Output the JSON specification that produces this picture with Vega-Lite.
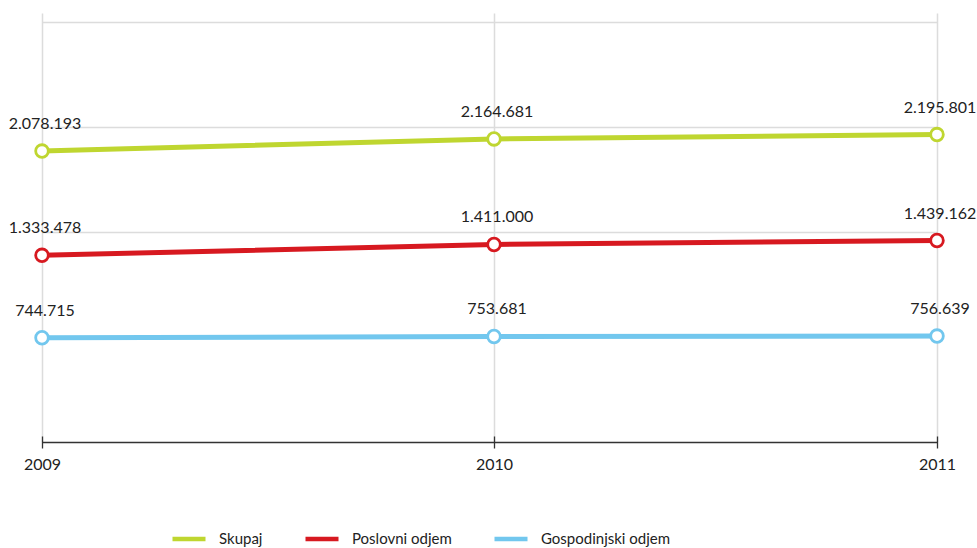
{
  "$schema": "https://vega.github.io/schema/vega-lite/v6.json",
  "autosize": "none",
  "width": 895,
  "height": 429,
  "padding": {"left": 42, "top": 13, "right": 40, "bottom": 106},
  "background": "white",
  "config": {
    "view": {"stroke": null},
    "font": "Lato",
    "text": {"font": "Lato"}
  },
  "data": {
    "values": [
      {"godina": 2009, "serija": "Skupaj", "vrijednost": 2078193, "oznaka": "2.078.193"},
      {"godina": 2010, "serija": "Skupaj", "vrijednost": 2164681, "oznaka": "2.164.681"},
      {"godina": 2011, "serija": "Skupaj", "vrijednost": 2195801, "oznaka": "2.195.801"},
      {"godina": 2009, "serija": "Poslovni odjem", "vrijednost": 1333478, "oznaka": "1.333.478"},
      {"godina": 2010, "serija": "Poslovni odjem", "vrijednost": 1411000, "oznaka": "1.411.000"},
      {"godina": 2011, "serija": "Poslovni odjem", "vrijednost": 1439162, "oznaka": "1.439.162"},
      {"godina": 2009, "serija": "Gospodinjski odjem", "vrijednost": 744715, "oznaka": "744.715"},
      {"godina": 2010, "serija": "Gospodinjski odjem", "vrijednost": 753681, "oznaka": "753.681"},
      {"godina": 2011, "serija": "Gospodinjski odjem", "vrijednost": 756639, "oznaka": "756.639"}
    ]
  },
  "encoding": {
    "x": {
      "field": "godina",
      "type": "quantitative",
      "scale": {"domain": [2009, 2010, 2011], "range": [0, 452, 895], "nice": false, "zero": false},
      "axis": {
        "title": null,
        "tickMinStep": 1,
        "format": "d",
        "domain": false,
        "offset": -6,
        "tickSize": 12,
        "tickColor": "#333333",
        "tickWidth": 1.3,
        "labelPadding": 8,
        "labelFont": "Lato",
        "labelFontSize": 16,
        "labelColor": "#222222",
        "labelFlush": false,
        "labelOverlap": false,
        "labelBound": false,
        "grid": true,
        "gridColor": "#dcdcdc",
        "gridWidth": 1.5
      }
    },
    "y": {
      "field": "vrijednost",
      "type": "quantitative",
      "scale": {"domain": [0, 3064286], "nice": false},
      "axis": {
        "title": null,
        "values": [0, 750000, 1500000, 2250000, 3000000],
        "labels": false,
        "ticks": false,
        "domain": false,
        "grid": true,
        "gridColor": {"condition": {"test": "datum.value === 0", "value": "#333333"}, "value": "#dcdcdc"},
        "gridWidth": 1.5
      }
    },
    "color": {
      "field": "serija",
      "type": "nominal",
      "scale": {
        "domain": ["Skupaj", "Poslovni odjem", "Gospodinjski odjem"],
        "range": ["#bfd630", "#d71920", "#72c7ee"]
      },
      "legend": {
        "orient": "none",
        "legendX": 128,
        "legendY": 507,
        "direction": "horizontal",
        "title": null,
        "symbolType": "stroke",
        "symbolSize": 1089,
        "symbolStrokeWidth": 4.5,
        "symbolOpacity": 1,
        "labelFont": "Lato",
        "labelFontSize": 15,
        "labelColor": "#222222",
        "labelOffset": 11,
        "columnPadding": 33
      }
    }
  },
  "layer": [
    {"mark": {"type": "line", "strokeWidth": 5}},
    {"mark": {"type": "point", "shape": "circle", "filled": true, "fill": "white", "opacity": 1, "size": 160, "strokeWidth": 2.8}, "encoding": {"stroke": {"field": "serija", "type": "nominal", "legend": null, "scale": {"domain": ["Skupaj", "Poslovni odjem", "Gospodinjski odjem"], "range": ["#bfd630", "#d71920", "#72c7ee"]}}}},
    {
      "mark": {"type": "text", "dy": -22, "dx": 3, "baseline": "alphabetic", "fontSize": 16, "font": "Lato", "color": "#222222"},
      "encoding": {"text": {"field": "oznaka"}, "color": {"value": "#222222"}}
    }
  ]
}
